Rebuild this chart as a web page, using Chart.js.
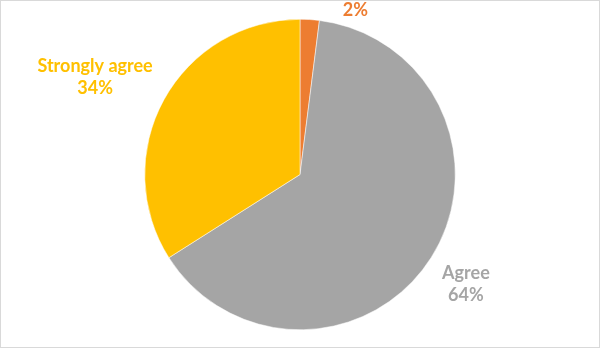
<!DOCTYPE html>
<html>
<head>
<meta charset="utf-8">
<script src="https://cdn.jsdelivr.net/npm/chart.js@4"></script>
<style>
  html, body { margin: 0; padding: 0; background: #fff; }
  #wrap { width: 600px; height: 348px; position: relative; }
</style>
</head>
<body>
<div id="wrap"><canvas id="grafico"></canvas></div>
<script>
// datos del gráfico
const categorias = ['Neutral', 'Agree', 'Strongly agree'];
const porcentajes = [2, 64, 34];
const etiquetas = [['2%'], ['Agree', '64%'], ['Strongly agree', '34%']];
const colores = ['#ED7D31', '#A5A5A5', '#FFC000'];

// dónde va cada etiqueta: ángulo extra (grados) y distancia relativa al radio
const posEtiquetas = [
  { giro: 15, dist: 1.12 },
  { giro: 1, dist: 1.28 },
  { giro: -3.5, dist: 1.46 },
];

const etiquetasPlugin = {
  id: 'etiquetas',
  afterDatasetsDraw(chart) {
    const ctx = chart.ctx;
    const meta = chart.getDatasetMeta(0);
    ctx.save();
    ctx.font = 'bold 18px Lato, "Open Sans", sans-serif';
    ctx.textAlign = 'center';
    ctx.textBaseline = 'middle';
    meta.data.forEach((arco, i) => {
      const p = arco.getProps(['x', 'y', 'startAngle', 'endAngle', 'outerRadius'], true);
      const ang = (p.startAngle + p.endAngle) / 2 + posEtiquetas[i].giro * Math.PI / 180;
      const r = p.outerRadius * posEtiquetas[i].dist;
      const cx = p.x + Math.cos(ang) * r;
      const cy = p.y + Math.sin(ang) * r;
      const lineas = etiquetas[i];
      const alto = 22;
      ctx.fillStyle = colores[i];
      lineas.forEach((txt, j) => {
        ctx.fillText(txt, cx, cy + (j - (lineas.length - 1) / 2) * alto);
      });
    });
    ctx.restore();
  }
};

const bordePlugin = {
  id: 'borde',
  afterDraw(chart) {
    const ctx = chart.ctx;
    ctx.save();
    ctx.strokeStyle = '#D9D9D9';
    ctx.lineWidth = 1;
    ctx.strokeRect(0.5, 0.5, chart.width - 1, chart.height - 1);
    ctx.restore();
  }
};

new Chart(document.getElementById('grafico'), {
  type: 'pie',
  data: {
    labels: categorias,
    datasets: [{
      data: porcentajes,
      backgroundColor: colores,
      borderColor: '#FFFFFF',
      borderWidth: 0.5,
    }],
  },
  options: {
    responsive: true,
    maintainAspectRatio: false,
    animation: false,
    layout: { padding: { top: 19, bottom: 18 } },
    plugins: {
      legend: { display: false },
      tooltip: { enabled: false },
    },
  },
  plugins: [etiquetasPlugin, bordePlugin],
});
</script>
</body>
</html>
